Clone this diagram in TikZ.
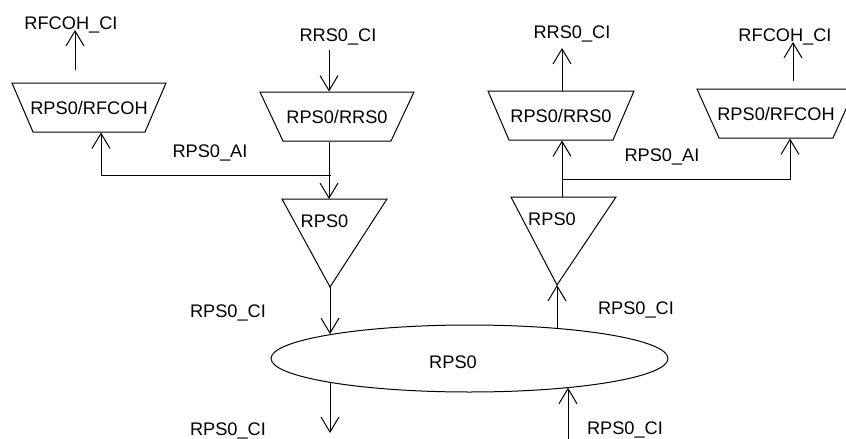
\documentclass[tikz,border=0pt]{standalone}
\usepackage{fontspec}
\setmainfont{Liberation Sans}
\usetikzlibrary{arrows.meta,shapes.geometric}

\tikzset{
  flow/.style={-{Straight Barb[length=7.5pt,width=9pt]}},
  lbl/.style={anchor=base, inner sep=0pt},
  muxbox/.style={minimum width=55pt, minimum height=24.5pt, inner sep=0pt},
}

\begin{document}
\begin{tikzpicture}[x=0.5pt, y=-0.5pt, line width=0.5pt, font=\fontsize{9.1}{11}\selectfont]
    \useasboundingbox (0,0) rectangle (846,439);

    % boxes
    \node[muxbox] (rfcohL) at (89, 107.5) {RPS0/RFCOH};
    \node[muxbox] (rrsL) at (337, 116.5) {RPS0/RRS0};
    \node[muxbox] (rrsR) at (561, 115.5) {RPS0/RRS0};
    \node[muxbox] (rfcohR) at (776, 113.5) {RPS0/RFCOH};
    \foreach \n/\t/\b in {rfcohL/77/56, rrsL/77/54, rrsR/73/52, rfcohR/79/57}
        \draw ([shift={(-\t,-24.5)}]\n.center) -- ([shift={(\t,-24.5)}]\n.center)
            -- ([shift={(\b,24.5)}]\n.center) -- ([shift={(-\b,24.5)}]\n.center) -- cycle;

    % triangles
    \coordinate (t1l) at (282, 199);
    \coordinate (t1r) at (387, 199);
    \coordinate (t1tip) at (330, 287);
    \coordinate (t2l) at (511, 197);
    \coordinate (t2r) at (616, 197);
    \coordinate (t2tip) at (557, 285);
    \draw (t1l) -- (t1r) -- (t1tip) -- cycle;
    \draw (t2l) -- (t2r) -- (t2tip) -- cycle;
    \node[lbl] (t1) at (324.5, 227) {RPS0};
    \node[lbl] (t2) at (552, 225) {RPS0};

    % bus
    \node[ellipse, draw, minimum width=198.5pt, minimum height=33.5pt, inner sep=0pt] (bus) at (469.5, 358.5) {};
    \node[lbl] (busName) at (453, 368) {RPS0};

    % labels
    \node[lbl] (ciA) at (71, 29) {RFCOH\_CI};
    \node[lbl] (ciB) at (338, 41) {RRS0\_CI};
    \node[lbl] (ciC) at (572, 39) {RRS0\_CI};
    \node[lbl] (ciD) at (785, 41) {RFCOH\_CI};
    \node[lbl] (aiL) at (210, 157) {RPS0\_AI};
    \node[lbl] (aiR) at (662, 161) {RPS0\_AI};
    \node[lbl] (ciT1) at (228, 317) {RPS0\_CI};
    \node[lbl] (ciOut) at (228, 435) {RPS0\_CI};
    \node[lbl] (ciT2) at (636, 314) {RPS0\_CI};
    \node[lbl] (ciIn) at (625, 434) {RPS0\_CI};

    % free ends
    \coordinate (aOut) at (75, 70);
    \coordinate (aTip) at (75, 30);
    \coordinate (bIn) at (329, 50);
    \coordinate (jL) at (331, 175);
    \coordinate (aiLc) at (101, 175);
    \coordinate (cOut) at (562, 48);
    \coordinate (t2top) at (562, 197);
    \coordinate (jR) at (562, 179);
    \coordinate (aiRc) at (790, 179);
    \coordinate (dOut) at (793, 81);
    \coordinate (dTip) at (793, 42);
    \coordinate (psOut) at (330, 433);
    \coordinate (psIn) at (568, 439);

    \draw[flow] (aOut) -- (aTip);
    \draw[flow] (jL) -- (aiLc) -- (aiLc |- rfcohL.south);
    \draw[flow] (bIn) -- (bIn |- rrsL.north);
    \draw[flow] (bIn |- rrsL.south) -- (bIn |- t1l);
    \draw[flow] (t1tip) -- (t1tip |- bus.170);
    \draw[flow] (t1tip |- bus.190) -- (psOut);
    \draw[flow] (psIn) -- (psIn |- bus.344);
    \draw[flow] (t2tip |- bus.19) -- (t2tip);
    \draw[flow] (t2top) -- (t2top |- rrsR.south);
    \draw[flow] (jR) -- (aiRc) -- (aiRc |- rfcohR.south);
    \draw[flow] (t2top |- rrsR.north) -- (cOut);
    \draw[flow] (dOut) -- (dTip);
\end{tikzpicture}
\end{document}
